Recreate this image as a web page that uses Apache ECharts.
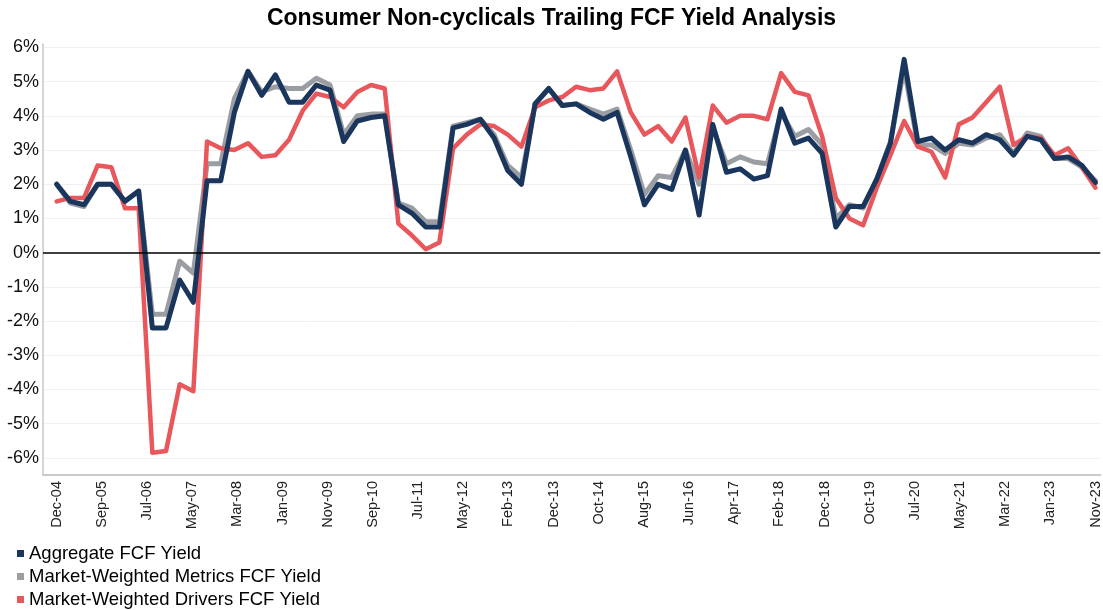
<!DOCTYPE html>
<html>
<head>
<meta charset="utf-8">
<script src="https://cdn.jsdelivr.net/npm/echarts@6/dist/echarts.min.js"></script>
<style>
  html, body { margin: 0; padding: 0; background: #fff; }
  #chart { width: 1103px; height: 610px; }
</style>
</head>
<body>
<div id="chart"></div>
<script>
// Tick labels shown on the horizontal axis (evenly spaced in time)
const tickLabels = ['Dec-04','Sep-05','Jul-06','May-07','Mar-08','Jan-09','Nov-09','Sep-10','Jul-11','May-12','Feb-13','Dec-13','Oct-14','Aug-15','Jun-16','Apr-17','Feb-18','Dec-18','Oct-19','Jul-20','May-21','Mar-22','Jan-23','Nov-23'];

// Series values (%), one value per quarterly observation
const aggregate = [2.0,1.5,1.4,2.0,2.0,1.5,1.8,-2.2,-2.2,-0.8,-1.45,2.1,2.1,4.1,5.3,4.6,5.2,4.4,4.4,4.9,4.75,3.25,3.85,3.95,4.0,1.4,1.15,0.75,0.75,3.65,3.75,3.9,3.35,2.4,2.0,4.35,4.8,4.3,4.35,4.1,3.9,4.1,2.8,1.4,2.0,1.85,3.0,1.1,3.75,2.35,2.45,2.15,2.25,4.2,3.2,3.35,2.9,0.75,1.35,1.35,2.15,3.2,5.65,3.25,3.35,3.0,3.3,3.2,3.45,3.3,2.85,3.4,3.3,2.75,2.8,2.55,2.05];
const metrics = [2.0,1.45,1.35,2.0,2.0,1.5,1.8,-1.8,-1.8,-0.25,-0.6,2.6,2.6,4.5,5.3,4.7,4.85,4.8,4.8,5.1,4.9,3.45,4.0,4.05,4.05,1.45,1.3,0.9,0.9,3.7,3.8,3.9,3.45,2.55,2.2,4.35,4.8,4.3,4.35,4.2,4.05,4.2,3.0,1.7,2.25,2.2,3.0,2.0,3.65,2.6,2.8,2.65,2.6,4.1,3.4,3.6,3.15,1.0,1.4,1.3,2.15,3.25,5.4,3.15,3.15,2.9,3.2,3.15,3.35,3.45,2.9,3.5,3.4,2.75,2.75,2.5,2.1];
const drivers = [1.5,1.6,1.6,2.55,2.5,1.3,1.3,-5.85,-5.8,-3.85,-4.05,3.25,3.05,3.0,3.2,2.8,2.85,3.3,4.15,4.65,4.55,4.25,4.7,4.9,4.8,0.85,0.5,0.1,0.3,3.05,3.45,3.75,3.7,3.45,3.1,4.25,4.45,4.55,4.85,4.75,4.8,5.3,4.1,3.45,3.7,3.25,3.95,2.2,4.3,3.8,4.0,4.0,3.9,5.25,4.7,4.6,3.4,1.6,1.0,0.8,1.9,2.85,3.85,3.1,2.95,2.2,3.75,3.95,4.4,4.85,3.15,3.4,3.35,2.85,3.05,2.5,1.9];
const yTicks = [-6,-5,-4,-3,-2,-1,0,1,2,3,4,5,6];

const lastIdx = aggregate.length - 1;
const tickStep = lastIdx / (tickLabels.length - 1);
const xTickValues = tickLabels.map((_, k) => k * tickStep);
const toPairs = arr => arr.map((v, i) => [i, v]);

const chart = echarts.init(document.getElementById('chart'), null, { renderer: 'canvas' });
const font = '"Liberation Sans", Arial, sans-serif';

chart.setOption({
  animation: false,
  backgroundColor: '#ffffff',
  textStyle: { fontFamily: font },
  title: {
    text: 'Consumer Non-cyclicals Trailing FCF Yield Analysis',
    left: 'center',
    top: 7,
    padding: 0,
    textStyle: { fontFamily: font, fontSize: 23, fontWeight: 'bold', color: '#000' }
  },
  legend: {
    orient: 'vertical',
    left: 17,
    top: 544,
    padding: 0,
    itemWidth: 7,
    itemHeight: 7,
    itemGap: 4,
    icon: 'rect',
    textStyle: { fontFamily: font, fontSize: 18.5, color: '#000' },
    data: ['Aggregate FCF Yield', 'Market-Weighted Metrics FCF Yield', 'Market-Weighted Drivers FCF Yield']
  },
  grid: { left: 43, right: 1, top: 44, bottom: 135, containLabel: false },
  xAxis: {
    type: 'value',
    min: -1,
    max: lastIdx + 0.35,
    axisLine: { onZero: false, lineStyle: { color: '#c8c8c8', width: 2 } },
    axisTick: { show: false, customValues: xTickValues },
    splitLine: { show: false },
    axisLabel: {
      customValues: xTickValues,
      rotate: 90,
      margin: 6,
      fontSize: 14.5,
      color: '#222',
      fontFamily: font,
      formatter: v => tickLabels[Math.round(v / tickStep)]
    }
  },
  yAxis: {
    type: 'value',
    min: -6.5,
    max: 6.1,
    axisLine: { show: true, onZero: false, lineStyle: { color: '#c8c8c8', width: 1.5 } },
    axisTick: { show: false, customValues: yTicks },
    splitLine: { show: true, lineStyle: { color: '#f0f0f0', width: 1 } },
    axisLabel: {
      customValues: yTicks,
      margin: 4,
      fontSize: 18,
      color: '#111',
      fontFamily: font,
      formatter: v => v + '%'
    }
  },
  series: [
    {
      name: 'Market-Weighted Metrics FCF Yield',
      type: 'line',
      data: toPairs(metrics),
      symbol: 'none',
      z: 2,
      itemStyle: { color: '#9a9ea3' },
      lineStyle: { color: '#9a9ea3', width: 5, join: 'round', cap: 'round' },
      markLine: {
        silent: true,
        symbol: 'none',
        label: { show: false },
        lineStyle: { color: '#000', width: 1.5, type: 'solid' },
        data: [{ yAxis: 0 }]
      }
    },
    {
      name: 'Market-Weighted Drivers FCF Yield',
      type: 'line',
      data: toPairs(drivers),
      symbol: 'none',
      z: 3,
      itemStyle: { color: '#e8575b' },
      lineStyle: { color: '#e8575b', width: 4.5, join: 'round', cap: 'round' }
    },
    {
      name: 'Aggregate FCF Yield',
      type: 'line',
      data: toPairs(aggregate),
      symbol: 'none',
      z: 4,
      itemStyle: { color: '#1b365d' },
      lineStyle: { color: '#1b365d', width: 5, join: 'round', cap: 'round' }
    }
  ]
});
</script>
</body>
</html>
